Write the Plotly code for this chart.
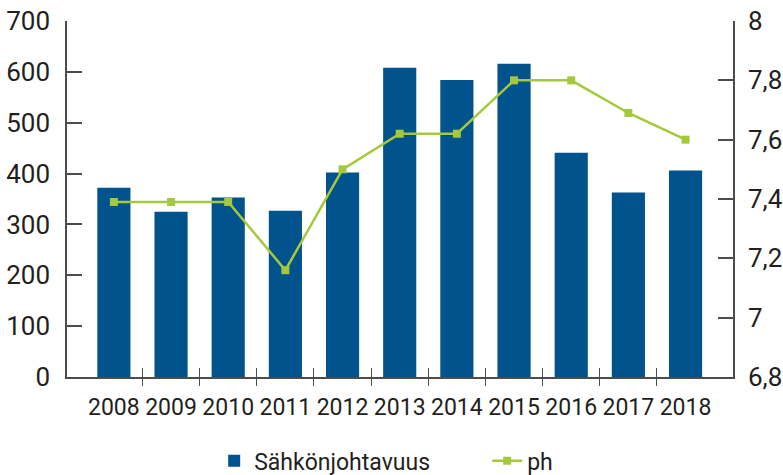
import plotly.graph_objects as go

years = [2008, 2009, 2010, 2011, 2012, 2013, 2014, 2015, 2016, 2017, 2018]
sahkonjohtavuus = [372, 325, 353, 327, 402, 608, 584, 616, 441, 363, 406]
ph = [7.39, 7.39, 7.39, 7.16, 7.50, 7.62, 7.62, 7.80, 7.80, 7.69, 7.60]
year_labels = [str(y) for y in years]
boundaries = [y + 0.5 for y in years[:-1]]
left_ticks = [0, 100, 200, 300, 400, 500, 600, 700]
right_ticks = [6.8, 7.0, 7.2, 7.4, 7.6, 7.8, 8.0]
right_tick_labels = ["6,8", "7", "7,2", "7,4", "7,6", "7,8", "8"]

BLUE = "#00538c"
GREEN = "#a5c93a"
AXIS = "#4d4d4d"
TEXT = "#231f20"
FONT = "Roboto"

fig = go.Figure()
fig.add_trace(go.Bar(
    x=years, y=sahkonjohtavuus, name="Sähkönjohtavuus",
    marker=dict(color=BLUE, line=dict(width=0)),
))
fig.add_trace(go.Scatter(
    x=years, y=ph, name="ph", yaxis="y2", mode="lines+markers",
    line=dict(color=GREEN, width=2.5),
    marker=dict(symbol="square", size=8, color=GREEN),
))
# helper (empty) trace so the overlay axis carrying the inner tick marks is drawn
fig.add_trace(go.Scatter(x=[], y=[], xaxis="x2", showlegend=False, hoverinfo="skip"))

xrange = [2007.18, 2018.83]
fig.update_layout(
    width=783, height=475,
    margin=dict(l=67, r=50, t=21, b=98, autoexpand=False),
    paper_bgcolor="white", plot_bgcolor="white",
    bargap=0.42,
    showlegend=True,
    legend=dict(
        orientation="h", x=0.221, xanchor="left", y=-0.175, yanchor="top",
        font=dict(family=FONT, size=23, color=TEXT),
        itemwidth=30, entrywidth=228, entrywidthmode="pixels",
    ),
    xaxis=dict(
        range=xrange, tickmode="array", tickvals=years, ticktext=year_labels,
        ticks="", showline=True, linecolor=AXIS, linewidth=1.5,
        showgrid=False, zeroline=False, automargin=False,
        tickfont=dict(family=FONT, size=23, color=TEXT),
        ticklabelstandoff=9,
        minor=dict(tickmode="array", tickvals=boundaries, ticks="outside",
                   ticklen=7, tickwidth=1.3, tickcolor=AXIS, showgrid=False),
    ),
    xaxis2=dict(
        range=xrange, overlaying="x", anchor="y", side="bottom",
        tickmode="array", tickvals=boundaries, ticks="inside", ticklen=9,
        tickwidth=1.3, tickcolor=AXIS, showticklabels=False, automargin=False,
        showline=False, showgrid=False, zeroline=False,
    ),
    yaxis=dict(
        range=[0, 700], tickmode="array", tickvals=left_ticks,
        ticks="inside", ticklen=15, tickwidth=1.5, tickcolor=AXIS,
        showline=True, linecolor=AXIS, linewidth=1.5,
        showgrid=False, zeroline=False, automargin=False,
        tickfont=dict(family=FONT, size=26, color=TEXT),
        ticklabelstandoff=10,
    ),
    yaxis2=dict(
        range=[6.8, 8.0], overlaying="y", side="right", anchor="x",
        tickmode="array", tickvals=right_ticks, ticktext=right_tick_labels,
        ticks="inside", ticklen=15, tickwidth=1.5, tickcolor=AXIS,
        showline=True, linecolor=AXIS, linewidth=1.5,
        showgrid=False, zeroline=False, automargin=False,
        tickfont=dict(family=FONT, size=26, color=TEXT),
        ticklabelstandoff=8,
    ),
)

fig.write_html("out.html", config={"displayModeBar": False},
               post_script="document.body.style.margin='0';")
